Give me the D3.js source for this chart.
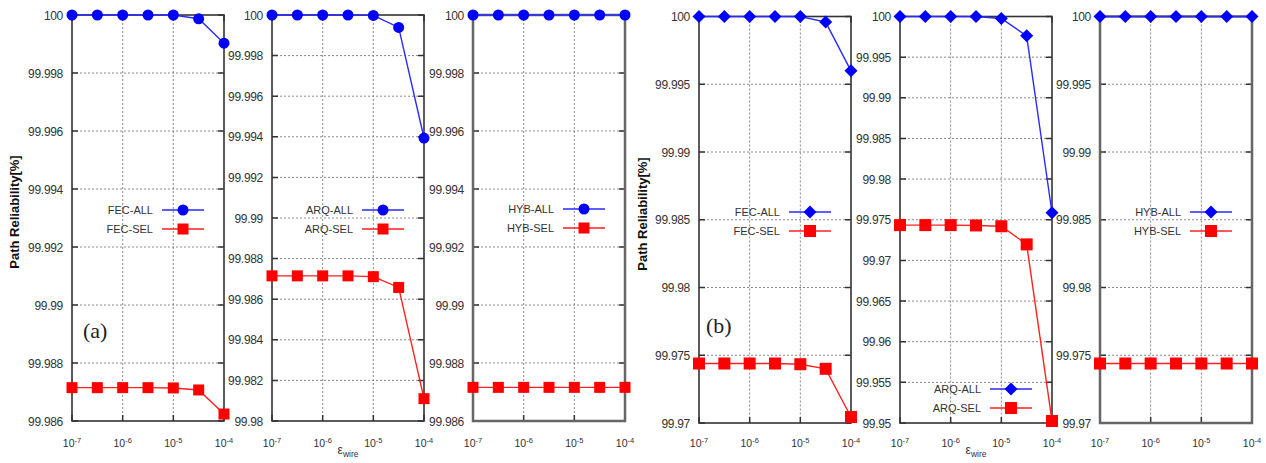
<!DOCTYPE html>
<html><head><meta charset="utf-8">
<script src="https://cdn.jsdelivr.net/npm/d3@7"></script>
<style>body{margin:0;background:#fff}svg{display:block}</style>
</head><body>
<svg id="c" width="1266" height="463"></svg>
<script>
// ---- data ----
const exps = [-7, -6.5, -6, -5.5, -5, -4.5, -4];          // log10(eps_wire)
const xTickExps = [-7, -6, -5, -4];

const fecAllA = [100, 100, 100, 100, 100, 99.99987, 99.99903];
const fecSelA = [99.98715, 99.98715, 99.98715, 99.98715, 99.98714, 99.98707, 99.98624];
const arqAllA = [100, 100, 100, 100, 99.99998, 99.99939, 99.99394];
const arqSelA = [99.98715, 99.98715, 99.98715, 99.98715, 99.98711, 99.98658, 99.98110];
const hybAllA = [100, 100, 100, 100, 100, 100, 100];
const hybSelA = [99.98716, 99.98716, 99.98716, 99.98716, 99.98716, 99.98716, 99.98716];

const fecAllB = [100, 100, 100, 100, 100, 99.99959, 99.99599];
const fecSelB = [99.97439, 99.97439, 99.97439, 99.97439, 99.97434, 99.97400, 99.97044];
const arqAllB = [100, 100, 100, 100, 99.99975, 99.99762, 99.97586];
const arqSelB = [99.97434, 99.97434, 99.97434, 99.97430, 99.97420, 99.97197, 99.95025];
const hybAllB = [100, 100, 100, 100, 100, 100, 100];
const hybSelB = [99.97439, 99.97439, 99.97439, 99.97439, 99.97439, 99.97439, 99.97439];

const yTicksA1 = [99.986, 99.988, 99.99, 99.992, 99.994, 99.996, 99.998, 100];
const yTicksA2 = [99.98, 99.982, 99.984, 99.986, 99.988, 99.99, 99.992, 99.994, 99.996, 99.998, 100];
const yTicksB1 = [99.97, 99.975, 99.98, 99.985, 99.99, 99.995, 100];
const yTicksB2 = [99.95, 99.955, 99.96, 99.965, 99.97, 99.975, 99.98, 99.985, 99.99, 99.995, 100];

const namesAll = ["FEC-ALL", "ARQ-ALL", "HYB-ALL"];
const namesSel = ["FEC-SEL", "ARQ-SEL", "HYB-SEL"];

// ---- layout ----
const panels = [
  {x: 72,  top: 15, bot: 421, ticks: yTicksA1, all: fecAllA, sel: fecSelA, n: 0, legY: 210, grp: "a"},
  {x: 272, top: 15, bot: 421, ticks: yTicksA2, all: arqAllA, sel: arqSelA, n: 1, legY: 210, grp: "a"},
  {x: 473, top: 15, bot: 421, ticks: yTicksA1, all: hybAllA, sel: hybSelA, n: 2, legY: 209, grp: "a", heavy: true},
  {x: 699, top: 16.5, bot: 423, ticks: yTicksB1, all: fecAllB, sel: fecSelB, n: 0, legY: 212, grp: "b"},
  {x: 900, top: 16.5, bot: 423, ticks: yTicksB2, all: arqAllB, sel: arqSelB, n: 1, legY: 389, grp: "b"},
  {x: 1100, top: 16.5, bot: 423, ticks: yTicksB1, all: hybAllB, sel: hybSelB, n: 2, legY: 212, grp: "b", heavy: true},
];
const W = 152;
const svg = d3.select("#c");
const font = "Liberation Sans, Arial, sans-serif";

function diamond(g, cx, cy, r, col) {
  g.append("path").attr("d", `M${cx},${cy-r}L${cx+r},${cy}L${cx},${cy+r}L${cx-r},${cy}Z`).attr("fill", col);
}
function marker(g, grp, cx, cy) {
  if (grp === "a") g.append("circle").attr("cx", cx).attr("cy", cy).attr("r", 5.5).attr("fill", "#0000ff");
  else diamond(g, cx, cy, 6.5, "#0000ff");
}
function square(g, cx, cy, s) {
  g.append("rect").attr("x", cx - s/2).attr("y", cy - s/2).attr("width", s).attr("height", s).attr("fill", "#ff0000");
}

panels.forEach(p => {
  const x = d3.scaleLinear().domain([-7, -4]).range([p.x, p.x + W]);
  const y = d3.scaleLinear().domain([p.ticks[0], p.ticks[p.ticks.length-1]]).range([p.bot, p.top]);
  const g = svg.append("g");

  // grid
  g.selectAll(null).data(p.ticks.slice(1, -1)).join("line")
    .attr("x1", p.x).attr("x2", p.x + W).attr("y1", d => y(d)).attr("y2", d => y(d))
    .attr("stroke", "#8a8a8a").attr("stroke-width", 1).attr("stroke-dasharray", "2,2");
  g.selectAll(null).data(xTickExps.slice(1, -1)).join("line")
    .attr("x1", d => x(d)).attr("x2", d => x(d)).attr("y1", p.top).attr("y2", p.bot)
    .attr("stroke", "#8a8a8a").attr("stroke-width", 1).attr("stroke-dasharray", "2,2");

  // ticks (inner, mirrored)
  g.selectAll(null).data(p.ticks).join("path")
    .attr("d", d => `M${p.x},${y(d)}h6M${p.x+W},${y(d)}h-6`).attr("stroke", "#333").attr("stroke-width", 1.5);
  g.selectAll(null).data(xTickExps).join("path")
    .attr("d", d => `M${x(d)},${p.bot}v-6M${x(d)},${p.top}v6`).attr("stroke", "#333").attr("stroke-width", 1.5);

  // frame
  g.append("rect").attr("x", p.x).attr("y", p.top).attr("width", W).attr("height", p.bot - p.top)
    .attr("fill", "none").attr("stroke", p.heavy ? "#666" : "#333").attr("stroke-width", p.heavy ? 2.5 : 1.6);

  // y tick labels
  g.selectAll(null).data(p.ticks).join("text")
    .attr("x", p.x - 9).attr("y", d => y(d) + 4.5).attr("text-anchor", "end")
    .attr("font-family", font).attr("font-size", 12).attr("fill", "#333")
    .attr("letter-spacing", "-0.3")
    .text(d => String(d));

  // x tick labels
  xTickExps.forEach(e => {
    const t = g.append("text").attr("x", x(e)).attr("y", 447).attr("text-anchor", "middle")
      .attr("font-family", font).attr("font-size", 10.5).attr("fill", "#333");
    t.append("tspan").text("10");
    t.append("tspan").attr("dy", -4).attr("font-size", 7.5).text(String(e));
  });

  // lines
  const line = d3.line().x((d, i) => x(exps[i])).y(d => y(d));
  g.append("path").datum(p.sel).attr("d", line).attr("fill", "none").attr("stroke", "#ff2020").attr("stroke-width", 1.4);
  g.append("path").datum(p.all).attr("d", line).attr("fill", "none").attr("stroke", "#2a2aff").attr("stroke-width", 1.4);
  p.sel.forEach((v, i) => square(g, x(exps[i]), y(v), p.grp === "a" ? 11 : 12));
  p.all.forEach((v, i) => marker(g, p.grp, x(exps[i]), y(v)));

  // legend
  const lr = p.x + W;
  [[namesAll[p.n], 0], [namesSel[p.n], 1]].forEach(([name, k]) => {
    const ly = p.legY + k * 19;
    g.append("text").attr("x", lr - 71).attr("y", ly + 4).attr("text-anchor", "end")
      .attr("font-family", font).attr("font-size", 11).attr("fill", "#333").text(name);
    g.append("line").attr("x1", lr - 62).attr("x2", lr - 20).attr("y1", ly).attr("y2", ly)
      .attr("stroke", k === 0 ? "#2a2aff" : "#ff2020").attr("stroke-width", 1.4);
    if (k === 0) marker(g, p.grp, lr - 41, ly); else square(g, lr - 41, ly, p.grp === "a" ? 11 : 12);
  });
});

// y axis titles
[[14, 212], [642, 214]].forEach(([cx, cy]) => {
  svg.append("text").attr("transform", `translate(${cx + 5},${cy}) rotate(-90)`).attr("text-anchor", "middle")
    .attr("font-family", font).attr("font-size", 13).attr("font-weight", "bold").attr("fill", "#111")
    .text("Path Reliability[%]");
});

// x axis titles
[348, 976].forEach(cx => {
  const t = svg.append("text").attr("x", cx).attr("y", 454).attr("text-anchor", "middle")
    .attr("font-family", font).attr("font-size", 12).attr("fill", "#333");
  t.append("tspan").text("ε");
  t.append("tspan").attr("dy", 3).attr("font-size", 8.5).text("wire");
});

// panel letters
svg.append("text").attr("x", 83).attr("y", 338).attr("font-family", "Liberation Serif, Times New Roman, serif")
  .attr("font-size", 22).attr("fill", "#222").text("(a)");
svg.append("text").attr("x", 706).attr("y", 333).attr("font-family", "Liberation Serif, Times New Roman, serif")
  .attr("font-size", 22).attr("fill", "#222").text("(b)");
</script>
</body></html>
